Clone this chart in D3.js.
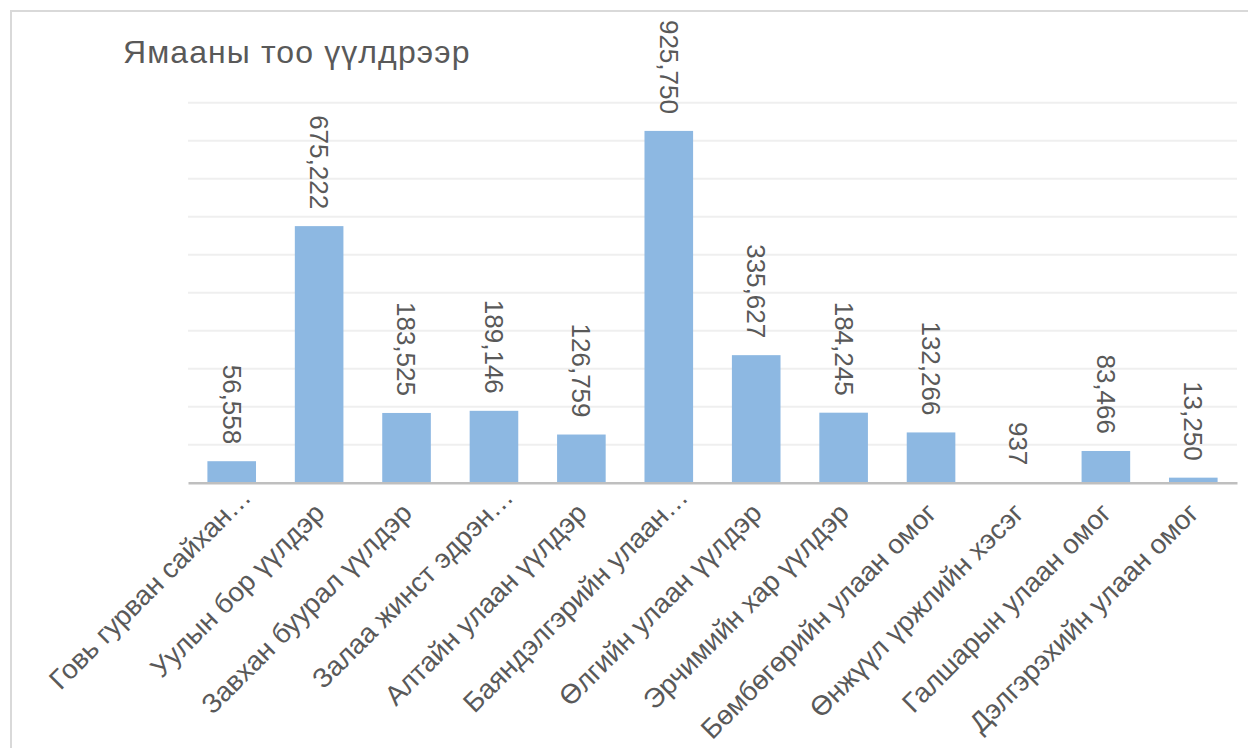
<!DOCTYPE html>
<html>
<head>
<meta charset="utf-8">
<script src="https://cdn.jsdelivr.net/npm/d3@7"></script>
<style>
  body { margin: 0; background: #fff; }
  text { font-family: "Liberation Sans", Arial, sans-serif; fill: #595959; }
</style>
</head>
<body>
<div id="drawArea"></div>
<script>
// data
var breeds = ["Говь гурван сайхан…", "Уулын бор үүлдэр", "Завхан буурал үүлдэр", "Залаа жинст эдрэн…",
  "Алтайн улаан үүлдэр", "Баяндэлгэрийн улаан…", "Өлгийн улаан үүлдэр", "Эрчимийн хар үүлдэр",
  "Бөмбөгөрийн улаан омог", "Өнжүүл үржлийн хэсэг", "Галшарын улаан омог", "Дэлгэрэхийн улаан омог"];
var goats = [56558, 675222, 183525, 189146, 126759, 925750, 335627, 184245, 132266, 937, 83466, 13250];
var yTicks = [0, 100000, 200000, 300000, 400000, 500000, 600000, 700000, 800000, 900000, 1000000];

var W = 1248, H = 748;
var margin = {top: 102.7, right: 11, bottom: 265.3, left: 188};
var width = W - margin.left - margin.right,
    height = H - margin.top - margin.bottom;

var svg = d3.select("#drawArea").append("svg")
  .attr("width", W).attr("height", H);

// chart border (only left & top visible)
svg.append("path")
  .attr("d", "M11,748 L11,11 L1248,11")
  .attr("fill", "none").attr("stroke", "#d9d9d9").attr("stroke-width", 2);

svg.append("text")
  .attr("x", 123).attr("y", 62.5)
  .style("font-size", "32px")
  .style("letter-spacing", "1.1px")
  .text("Ямааны тоо үүлдрээр");

var g = svg.append("g")
  .attr("transform", "translate(" + margin.left + "," + margin.top + ")");

var x = d3.scaleBand().domain(breeds).range([0, width]).paddingInner(0.444).paddingOuter(0.222);
var y = d3.scaleLinear().domain([0, 1000000]).range([height, 0]);

// gridlines
g.append("g")
  .selectAll("line")
  .data(yTicks.slice(1))
  .enter().append("line")
    .attr("x1", 0).attr("x2", width)
    .attr("y1", function(d){ return y(d) }).attr("y2", function(d){ return y(d) })
    .attr("stroke", "#efefef").attr("stroke-width", 2);

// bars
g.selectAll("rect.bar")
  .data(goats)
  .enter().append("rect")
    .attr("class", "bar")
    .attr("x", function(d, i){ return x(breeds[i]) })
    .attr("width", x.bandwidth())
    .attr("y", function(d){ return y(d) })
    .attr("height", function(d){ return height - y(d) })
    .attr("fill", "#8db8e2");

// x axis line
var xAxis = g.append("g")
  .attr("transform", "translate(0," + height + ")")
  .call(d3.axisBottom(x).tickSize(0).tickFormat(""));
xAxis.select(".domain").attr("stroke", "#bfbfbf").attr("stroke-width", 2.5);

// data labels rotated 90
var fmt = d3.format(",");
g.selectAll("text.val")
  .data(goats)
  .enter().append("text")
    .attr("class", "val")
    .attr("text-anchor", "end")
    .attr("dy", "0.35em")
    .style("font-size", "26px")
    .attr("transform", function(d, i){
      var cx = x(breeds[i]) + x.bandwidth() / 2;
      return "translate(" + cx + "," + (y(d) - 17) + ") rotate(90)";
    })
    .text(function(d){ return fmt(d) });

// category labels rotated -45
g.selectAll("text.cat")
  .data(breeds)
  .enter().append("text")
    .attr("class", "cat")
    .attr("text-anchor", "end")
    .style("font-size", "27.5px")
    .attr("transform", function(d){
      var cx = x(d) + x.bandwidth() / 2 + 7;
      var cy = height + 32;
      if (d.slice(-1) === "…") { cx += 14; cy -= 16; }
      return "translate(" + cx + "," + cy + ") rotate(-45)";
    })
    .text(function(d){ return d });
</script>
</body>
</html>
